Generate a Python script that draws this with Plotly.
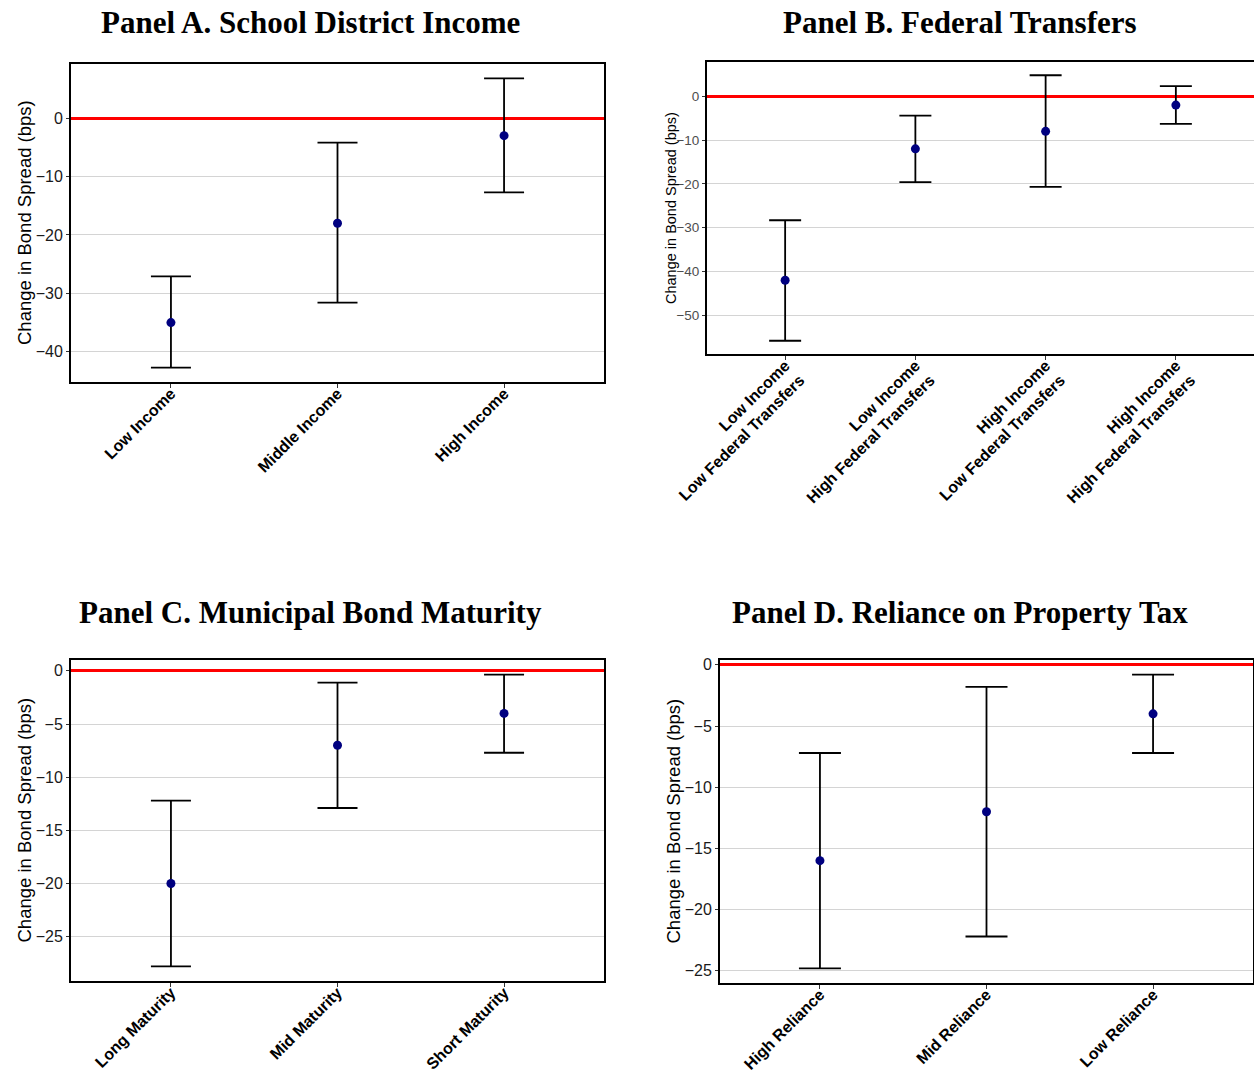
import plotly.graph_objects as go

# ---- data: point estimates and 95% confidence bounds (bps) ----
a_labels = ["Low Income", "Middle Income", "High Income"]
a_est = [-35.0, -18.0, -3.0]
a_lo = [-42.7, -31.6, -12.7]
a_hi = [-27.1, -4.2, 6.8]

b_labels = ["Low Income<br>Low Federal Transfers", "Low Income<br>High Federal Transfers",
            "High Income<br>Low Federal Transfers", "High Income<br>High Federal Transfers"]
b_est = [-42.0, -12.0, -8.0, -2.0]
b_lo = [-55.8, -19.6, -20.7, -6.3]
b_hi = [-28.3, -4.4, 4.8, 2.3]

c_labels = ["Long Maturity", "Mid Maturity", "Short Maturity"]
c_est = [-20.0, -7.0, -4.0]
c_lo = [-27.8, -12.9, -7.7]
c_hi = [-12.2, -1.1, -0.35]

d_labels = ["High Reliance", "Mid Reliance", "Low Reliance"]
d_est = [-16.0, -12.0, -4.0]
d_lo = [-24.8, -22.2, -7.2]
d_hi = [-7.2, -1.8, -0.8]

a_ticks = [0, -10, -20, -30, -40]
b_ticks = [0, -10, -20, -30, -40, -50]
c_ticks = [0, -5, -10, -15, -20, -25]
d_ticks = [0, -5, -10, -15, -20, -25]

titles = ["Panel A. School District Income", "Panel B. Federal Transfers",
          "Panel C. Municipal Bond Maturity", "Panel D. Reliance on Property Tax"]
ytitle = "Change in Bond Spread (bps)"

W, H = 1254, 1074


def px_x(v):
    return v / W


def px_y(v):
    return 1 - v / H


panels = [
    dict(lab=a_labels, est=a_est, lo=a_lo, hi=a_hi, ticks=a_ticks,
         xd=[px_x(71), px_x(604)], yd=[px_y(382), px_y(64)], cap=20, small=False,
         title_xy=(310, 22), ytitle_x=24),
    dict(lab=b_labels, est=b_est, lo=b_lo, hi=b_hi, ticks=b_ticks,
         xd=[px_x(707), 1.0], yd=[px_y(354), px_y(62)], cap=16, small=True,
         title_xy=(960, 22), ytitle_x=671),
    dict(lab=c_labels, est=c_est, lo=c_lo, hi=c_hi, ticks=c_ticks,
         xd=[px_x(71), px_x(604)], yd=[px_y(981), px_y(660)], cap=20, small=False,
         title_xy=(310, 612), ytitle_x=24),
    dict(lab=d_labels, est=d_est, lo=d_lo, hi=d_hi, ticks=d_ticks,
         xd=[px_x(720), px_x(1253)], yd=[px_y(983), px_y(660)], cap=21, small=False,
         title_xy=(960, 612), ytitle_x=673),
]

fig = go.Figure()
layout = dict(width=W, height=H, margin=dict(l=0, r=0, t=0, b=0, autoexpand=False),
              paper_bgcolor="white", plot_bgcolor="white", showlegend=False,
              font=dict(family="Liberation Sans, Arial, sans-serif", color="black"))

annotations = []

for i, p in enumerate(panels):
    n = i + 1
    xa = "x" if n == 1 else f"x{n}"
    ya = "y" if n == 1 else f"y{n}"
    err_plus = [h - e for h, e in zip(p["hi"], p["est"])]
    err_minus = [e - l for e, l in zip(p["est"], p["lo"])]
    fig.add_trace(go.Scatter(
        x=p["lab"], y=p["est"], mode="markers", xaxis=xa, yaxis=ya,
        marker=dict(color="#000080", size=9),
        error_y=dict(type="data", array=err_plus, arrayminus=err_minus,
                     color="black", thickness=1.8, width=p["cap"]),
        hoverinfo="skip"))

    lo_all = min(p["lo"])
    hi_all = max(p["hi"])
    pad = 0.05 * (hi_all - lo_all)
    yr = [lo_all - pad, hi_all + pad]
    k = len(p["lab"])

    tick_size = 13.5 if p["small"] else 16
    tick_color = "#4d4d4d" if p["small"] else "#1a1a1a"
    title_size = 14.5 if p["small"] else 18.5

    layout["xaxis" if n == 1 else f"xaxis{n}"] = dict(
        domain=p["xd"], anchor=ya, type="category", range=[-0.6, k - 0.4],
        showline=True, mirror=True, linecolor="black", linewidth=2,
        showgrid=False, zeroline=False, automargin=False,
        ticks="outside", ticklen=4, tickcolor="#333333", tickwidth=1,
        ticklabelstandoff=-10,
        tickangle=-45, tickfont=dict(size=16, color="black",
                                     family="Liberation Sans, Arial, sans-serif",
                                     weight="bold"),
        fixedrange=True)
    layout["yaxis" if n == 1 else f"yaxis{n}"] = dict(
        domain=p["yd"], anchor=xa, range=yr, automargin=False,
        tickvals=p["ticks"], ticktext=[("\u2212" + str(-t)) if t < 0 else str(t) for t in p["ticks"]],
        showline=True, mirror=True, linecolor="black", linewidth=2,
        showgrid=True, gridcolor="#d4d4d4", gridwidth=1,
        zeroline=True, zerolinecolor="#ff0000", zerolinewidth=3,
        ticks="outside", ticklen=3, tickcolor="#333333",
        tickfont=dict(size=tick_size, color=tick_color),
        fixedrange=True)

    # panel heading
    tx, ty = p["title_xy"]
    annotations.append(dict(
        text="<b>" + titles[i] + "</b>", x=px_x(tx), y=px_y(ty), xref="paper", yref="paper",
        xanchor="center", yanchor="middle", showarrow=False,
        font=dict(family="Liberation Serif, DejaVu Serif, serif", size=31, color="black")))
    # y-axis title, centred on the plot box
    annotations.append(dict(
        text=ytitle, x=px_x(p["ytitle_x"]), y=(p["yd"][0] + p["yd"][1]) / 2,
        xref="paper", yref="paper", xanchor="center", yanchor="middle",
        textangle=-90, showarrow=False,
        font=dict(size=title_size, color="black")))

layout["annotations"] = annotations
fig.update_layout(**layout)
fig.write_html("out.html")
